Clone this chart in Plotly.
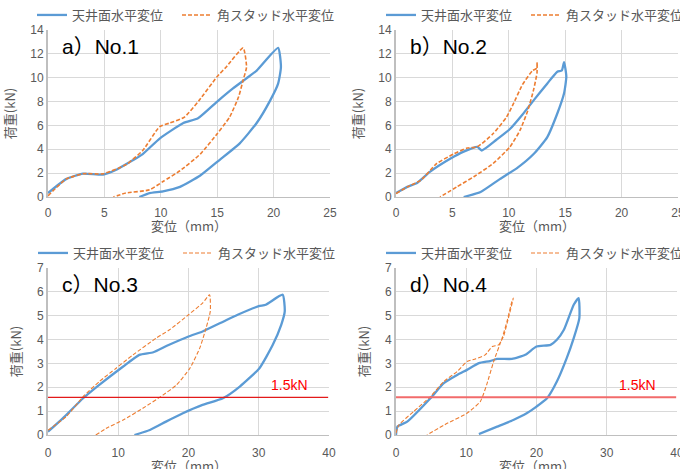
import plotly.graph_objects as go

# ---------------- data ----------------
# Panel a) No.1
a_ceil_x = [0, 1.6, 3.1, 4.9, 6.1, 7.2, 8.4, 9.9, 12.0, 13.3, 15.0, 16.4, 17.6, 18.5, 20.4,
            20.65, 20.4, 19.7, 18.5, 17.0, 15.2, 13.5, 11.7, 10.2, 9.0, 8.1]
a_ceil_y = [0.33, 1.5, 1.96, 1.88, 2.3, 2.9, 3.6, 4.9, 6.2, 6.6, 8.0, 9.1, 9.95, 10.6, 12.5,
            10.9, 9.5, 8.1, 6.2, 4.5, 3.1, 1.8, 0.85, 0.48, 0.33, 0.0]
a_stud_x = [0, 1.6, 3.1, 4.9, 6.9, 8.4, 9.9, 10.8, 12.1, 13.4, 15.0, 15.8, 17.3,
            17.6, 17.3, 16.9, 16.1, 15.0, 13.5, 11.7, 10.2, 9.0, 6.9, 5.8]
a_stud_y = [0.1, 1.5, 1.95, 1.95, 2.7, 3.9, 5.9, 6.2, 6.7, 8.1, 10.1, 10.9, 12.5,
            10.9, 9.8, 8.4, 6.7, 5.3, 3.6, 2.2, 1.3, 0.6, 0.33, 0.0]

# Panel b) No.2
b_ceil_x = [0, 1.0, 1.9, 3.0, 4.8, 6.0, 7.2, 7.6, 8.9, 10.1, 11.2, 12.2, 13.4, 14.3, 14.7, 14.9,
            15.1, 14.9, 14.3, 13.4, 12.2, 10.7, 9.2, 7.5, 6.0]
b_ceil_y = [0.33, 0.85, 1.2, 2.1, 3.2, 3.8, 4.2, 3.9, 4.8, 5.7, 6.9, 8.1, 9.5, 10.5, 10.6, 11.3,
            10.1, 8.7, 7.0, 5.0, 3.6, 2.4, 1.5, 0.42, 0.0]
b_stud_x = [0, 1.0, 2.2, 3.6, 5.1, 6.3, 7.2, 8.6, 9.8, 10.4, 11.2, 12.1, 12.5, 12.5,
            12.5, 12.2, 11.7, 11.0, 10.1, 8.6, 6.9, 5.4, 3.9]
b_stud_y = [0.28, 0.85, 1.4, 2.8, 3.6, 4.1, 4.2, 5.3, 6.7, 7.8, 9.4, 10.6, 10.8, 11.3,
            10.4, 9.0, 7.3, 5.6, 4.2, 2.8, 1.7, 0.85, 0.0]

# Panel c) No.3
c_ceil_x = [0, 2.1, 5.0, 7.3, 10.7, 13.0, 15.0, 17.0, 20.0, 22.0, 25.0, 27.0, 30.0, 31.0, 33.4,
            33.7, 33.2, 32.0, 30.1, 27.3, 24.9, 22.0, 19.2, 16.8, 14.5, 12.3]
c_ceil_y = [0.14, 0.7, 1.54, 2.1, 2.87, 3.36, 3.47, 3.75, 4.13, 4.34, 4.76, 5.04, 5.4, 5.46, 5.88,
            5.18, 4.62, 3.78, 2.8, 2.03, 1.54, 1.26, 0.91, 0.56, 0.21, 0.0]
c_stud_x = [0, 2.6, 5.0, 7.3, 9.7, 12.1, 15.4, 17.3, 20.0, 22.0, 23.0,
            23.1, 22.5, 21.6, 20.2, 18.3, 16.4, 13.5, 10.7, 8.3, 6.8]
c_stud_y = [0.2, 0.77, 1.61, 2.24, 2.8, 3.36, 4.06, 4.41, 5.04, 5.53, 5.88,
            5.18, 4.48, 3.64, 2.8, 2.1, 1.68, 1.12, 0.63, 0.28, 0.0]

# Panel d) No.4
d_ceil_x = [0, 0.2, 1.6, 4.9, 6.8, 8.7, 10.1, 11.8, 13.4, 14.4, 16.5, 18.4, 20.0, 22.0, 22.9, 23.9, 25.3, 26.0,
            26.1, 25.3, 24.3, 22.9, 21.5, 20.0, 18.6, 16.7, 14.4, 11.8]
d_ceil_y = [0.0, 0.35, 0.56, 1.54, 2.17, 2.52, 2.73, 3.01, 3.1, 3.19, 3.19, 3.36, 3.71, 3.78, 3.99, 4.41, 5.46, 5.74,
            4.9, 4.06, 3.22, 2.24, 1.54, 1.19, 0.91, 0.63, 0.35, 0.04]
d_stud_x = [0, 0.4, 2.5, 4.9, 6.8, 8.7, 10.1, 11.3, 12.7, 13.7, 14.6, 15.3, 16.0, 16.7,
            16.5, 15.8, 15.1, 13.9, 12.9, 12.0, 10.1, 7.3, 4.4]
d_stud_y = [0.07, 0.42, 0.98, 1.61, 2.24, 2.66, 3.08, 3.19, 3.36, 3.71, 3.78, 4.13, 4.9, 5.74,
            5.6, 4.76, 4.06, 3.08, 2.1, 1.4, 0.91, 0.49, 0.0]

threshold_y = 1.58
threshold_label = "1.5kN"
series_names = ["天井面水平変位", "角スタッド水平変位"]
panel_titles = ["a）No.1", "b）No.2", "c）No.3", "d）No.4"]
x_ranges = [[0, 25], [0, 25], [0, 40], [0, 40]]
y_ranges = [[0, 14], [0, 14], [0, 7], [0, 7]]
x_dtick = [5, 5, 10, 10]
y_dtick = [2, 2, 1, 1]
x_title = "変位（mm）"
y_title = "荷重(kN)"

# ---------------- figure ----------------
W, H = 680, 469
BLUE = "#5B9BD5"
ORANGE = "#ED7D31"
GRAY = "#595959"
FONT = "Liberation Sans, Noto Sans CJK JP, sans-serif"
JFONT = "Noto Sans CJK JP, sans-serif"

panels = [
    (a_ceil_x, a_ceil_y, a_stud_x, a_stud_y),
    (b_ceil_x, b_ceil_y, b_stud_x, b_stud_y),
    (c_ceil_x, c_ceil_y, c_stud_x, c_stud_y),
    (d_ceil_x, d_ceil_y, d_stud_x, d_stud_y),
]

# pixel boxes (left, right, top, bottom)
boxes = [(48, 330, 30, 197), (396, 678, 30, 197), (48, 329, 268, 435), (396, 677, 268, 435)]
# legend anchor pixels: (blue x, orange x, y)
legend_pos = [(32, 177, 15), (381, 526, 15), (33, 178, 253), (381, 526, 253)]
tick_standoffs = [4, 4, 6, 6]
xtitle_y = [226, 226, 465, 465]

fig = go.Figure()
layout = dict(width=W, height=H, margin=dict(l=0, r=0, t=0, b=0, autoexpand=False),
              paper_bgcolor="white", plot_bgcolor="white", showlegend=True,
              font=dict(family=JFONT, color=GRAY, size=12))
annotations = []

for i, (cx, cy, sx, sy) in enumerate(panels):
    k = "" if i == 0 else str(i + 1)
    xa, ya = "x" + k, "y" + k
    leg1 = "legend" if i == 0 else "legend" + str(2 * i + 1)
    leg2 = "legend" + str(2 * i + 2)
    stud_w = 1.6 if i < 2 else 1.1
    fig.add_trace(go.Scatter(x=cx, y=cy, mode="lines", name=series_names[0],
                             line=dict(color=BLUE, width=2.3, shape="spline", smoothing=0.5),
                             xaxis=xa, yaxis=ya, legend=leg1))
    fig.add_trace(go.Scatter(x=sx, y=sy, mode="lines", name=series_names[1],
                             line=dict(color=ORANGE, width=stud_w, dash="4px,2px", shape="spline", smoothing=0.5),
                             xaxis=xa, yaxis=ya, legend=leg2))
    if i >= 2:
        red = "#E31A1A" if i == 2 else "#F26B6B"
        rw = 1.3 if i == 2 else 2
        fig.add_trace(go.Scatter(x=[x_ranges[i][0], x_ranges[i][1] * 0.997], y=[threshold_y, threshold_y],
                                 mode="lines", line=dict(color=red, width=rw), showlegend=False,
                                 hoverinfo="skip", xaxis=xa, yaxis=ya))
        annotations.append(dict(x=x_ranges[i][1] * 0.86, y=threshold_y, xref=xa, yref=ya,
                                text=threshold_label, showarrow=False, yanchor="bottom", yshift=2,
                                font=dict(family="Liberation Sans, sans-serif", size=14, color="#FF0000")))
    l, r, t, b = boxes[i]
    axis_common = dict(showgrid=True, gridcolor="#D9D9D9", gridwidth=1, zeroline=False, automargin=False,
                       ticks="", ticklabeloverflow="allow",
                       tickfont=dict(family="Liberation Sans, sans-serif", size=12, color=GRAY))
    layout["xaxis" + k] = dict(domain=[l / W, r / W], anchor=ya, range=x_ranges[i], dtick=x_dtick[i],
                               tick0=0, showline=True, linecolor="#BFBFBF", linewidth=1.2,
                               ticklabelstandoff=tick_standoffs[i],
                               **axis_common)
    layout["yaxis" + k] = dict(domain=[1 - b / H, 1 - t / H], anchor=xa, range=y_ranges[i], dtick=y_dtick[i],
                               tick0=0, showline=True, linecolor="#BFBFBF", linewidth=2,
                               title=dict(text=y_title, font=dict(size=13, color=GRAY, family=JFONT),
                                          standoff=12),
                               **axis_common)
    # x axis title
    annotations.append(dict(x=(l + r) / 2 / W, y=1 - xtitle_y[i] / H, xref="paper", yref="paper",
                            text=x_title, showarrow=False, xanchor="center", yanchor="middle",
                            font=dict(size=13, color=GRAY, family=JFONT)))
    bx, ox, ly = legend_pos[i]
    for leg, lx in ((leg1, bx), (leg2, ox)):
        layout[leg] = dict(x=lx / W, y=1 - ly / H, xanchor="left", yanchor="middle", orientation="h",
                           font=dict(size=13, color=GRAY, family=JFONT), bgcolor="rgba(0,0,0,0)",
                           itemwidth=30, tracegroupgap=0)
    annotations.append(dict(x=(l + 12) / W, y=1 - (t + 16) / H, xref="paper", yref="paper",
                            text=panel_titles[i], showarrow=False, xanchor="left", yanchor="middle",
                            font=dict(family=FONT, size=21, color="#000000")))

layout["annotations"] = annotations
fig.update_layout(**layout)
fig.write_html("out.html", config={"displayModeBar": False},
               post_script="document.body.style.margin='0px';document.body.style.overflow='hidden';")
